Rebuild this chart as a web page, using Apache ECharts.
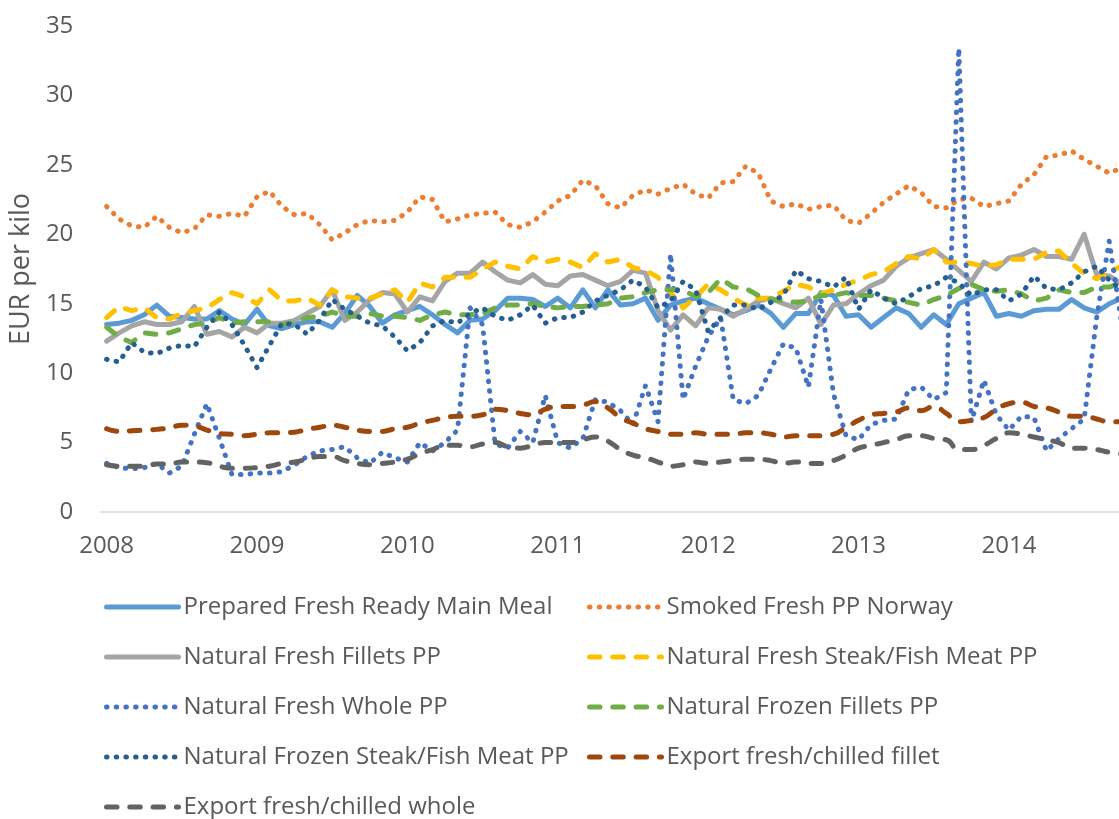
<!DOCTYPE html>
<html><head><meta charset="utf-8">
<script src="https://cdn.jsdelivr.net/npm/echarts@6/dist/echarts.min.js"></script>
<style>html,body{margin:0;padding:0;background:#fff;overflow:hidden;width:1119px;height:819px}#c{width:1128px;height:819px}</style>
</head><body><div id="c"></div>
<script>
// Years shown (monthly data Jan 2008 – Oct 2014)
const years = ['2008','2009','2010','2011','2012','2013','2014'];
const monthsInLastYear = 10;
const yTicks = [0, 5, 10, 15, 20, 25, 30, 35];

const prepared = [13.5,13.6,13.8,14.2,14.9,14.1,14.0,13.9,13.9,14.5,13.9,13.5,
 14.6,13.4,13.2,13.5,13.7,13.7,13.3,14.3,15.6,14.8,13.6,14.2,
 14.5,14.8,14.2,13.5,12.9,13.8,13.9,14.5,15.4,15.4,15.3,14.8,
 15.4,14.7,16.0,14.7,16.0,14.9,15.0,15.4,13.8,14.9,15.2,15.4,
 15.0,14.6,14.2,14.5,14.9,14.3,13.3,14.3,14.3,15.8,15.6,14.1,
 14.2,13.3,14.0,14.7,14.3,13.3,14.2,13.5,15.0,15.4,15.8,14.1,
 14.3,14.1,14.5,14.6,14.6,15.3,14.7,14.4,15.0,15.4];
const smoked = [22.0,21.1,20.6,20.5,21.3,20.5,20.1,20.4,21.4,21.3,21.5,21.3,
 22.7,23.1,22.0,21.4,21.5,20.7,19.6,20.1,20.7,21.0,20.9,21.0,
 21.6,22.7,22.5,20.9,21.1,21.4,21.5,21.6,20.7,20.5,20.9,21.6,
 22.4,22.8,23.9,23.5,22.2,21.9,22.8,23.2,22.9,23.3,23.6,22.9,
 22.6,23.7,23.8,24.9,24.4,22.4,22.0,22.2,21.8,22.0,22.1,21.0,
 20.8,21.5,22.3,22.9,23.5,23.0,22.0,21.9,22.5,22.6,22.0,22.2,
 22.4,23.6,24.3,25.6,25.7,26.0,25.4,24.9,24.4,24.8];
const fillets = [12.3,12.9,13.4,13.7,13.5,13.5,13.7,14.8,12.8,13.0,12.6,13.3,
 12.9,13.6,13.6,13.8,14.3,14.8,16.0,13.8,14.4,15.3,15.8,15.7,
 14.4,15.5,15.2,16.6,17.2,17.2,18.0,17.3,16.7,16.5,17.1,16.4,
 16.3,17.0,17.1,16.7,16.3,16.6,17.4,17.2,14.5,13.1,14.2,13.4,
 14.7,14.6,14.1,14.6,15.2,15.4,15.0,14.7,15.4,13.5,14.9,15.0,
 15.7,16.3,16.7,17.7,18.3,18.6,18.9,18.2,17.4,16.6,18.0,17.5,
 18.3,18.5,18.9,18.4,18.4,18.2,20.0,17.1,17.0,16.4];
const steak = [14.0,14.8,14.5,14.7,14.0,13.9,14.3,14.5,14.7,15.3,15.8,15.5,
 15.0,16.0,15.2,15.2,15.4,14.9,16.0,15.5,15.4,15.4,15.7,16.0,
 15.1,16.5,16.2,16.9,16.9,16.9,17.5,18.0,17.7,17.5,18.4,18.0,
 18.2,18.0,17.6,18.6,18.0,18.2,17.6,17.4,16.9,15.8,14.7,15.5,
 16.4,16.0,15.4,14.9,15.4,15.4,15.9,16.4,16.2,15.7,16.0,16.4,
 16.7,17.1,17.3,17.9,18.4,18.2,18.9,18.0,18.0,17.9,17.7,17.8,
 18.2,18.2,18.2,18.7,18.8,17.9,17.2,16.8,17.3,17.7];
const whole = [3.5,3.2,3.1,3.2,3.5,2.8,3.3,5.6,7.8,5.3,2.7,2.7,
 2.8,2.8,2.9,3.4,4.0,4.4,4.5,4.7,3.9,3.5,4.3,3.9,
 3.6,5.0,4.4,5.0,5.9,14.7,13.5,4.9,4.6,5.8,5.0,8.4,
 5.0,4.6,5.3,8.1,7.9,7.3,6.3,9.1,6.5,18.6,8.1,10.5,
 12.6,14.0,8.1,7.8,8.4,10.3,12.1,11.8,9.0,15.3,8.5,5.5,
 5.2,6.3,6.6,6.7,8.8,9.0,8.1,8.6,33.4,6.5,9.5,7.0,
 5.9,6.9,6.8,4.4,5.3,6.0,6.7,14.0,19.5,13.5];
const frozenFillets = [13.3,12.6,12.2,12.9,12.8,12.9,13.2,13.5,13.6,14.0,13.6,13.7,
 13.7,13.7,13.5,13.6,14.0,14.1,14.4,14.1,14.1,14.3,14.1,14.1,
 14.0,13.8,14.2,14.4,14.2,14.2,14.3,14.7,14.9,14.9,15.0,14.8,
 14.7,14.8,14.8,14.9,15.0,15.4,15.5,15.8,16.0,16.0,16.0,15.5,
 15.8,16.8,16.2,16.1,15.6,15.3,15.2,15.1,15.2,15.6,15.6,15.8,
 15.6,15.6,15.4,15.2,15.1,14.9,15.3,15.6,16.1,16.4,16.0,15.9,
 16.0,15.7,15.2,15.4,16.0,15.8,15.8,16.2,16.2,16.5];
const frozenSteak = [11.0,10.8,12.2,11.5,11.4,11.8,12.0,11.9,13.3,14.4,13.5,12.0,
 10.4,12.0,13.6,13.5,12.8,13.8,15.3,14.6,14.1,13.6,13.4,12.6,
 11.6,12.2,13.4,13.8,13.6,14.3,14.7,14.1,13.8,14.2,14.9,13.6,
 14.0,14.0,14.4,15.2,15.6,16.0,16.7,16.2,14.7,15.2,16.6,16.0,
 13.0,14.0,14.9,14.9,14.6,15.1,15.6,17.4,16.8,16.6,16.2,16.9,
 14.6,16.0,15.4,15.0,15.5,16.1,16.3,16.9,16.5,15.6,16.0,16.0,
 15.2,15.7,17.0,16.1,16.0,16.5,17.3,17.7,16.7,16.0];
const exportFillet = [6.0,5.8,5.85,5.9,5.95,6.05,6.25,6.2,5.9,5.65,5.6,5.5,
 5.6,5.7,5.7,5.75,5.95,6.1,6.25,6.1,5.9,5.8,5.8,6.0,
 6.1,6.4,6.6,6.8,6.9,6.9,7.0,7.4,7.3,7.1,7.0,7.4,
 7.6,7.6,7.7,7.95,7.5,6.8,6.4,6.0,5.8,5.6,5.6,5.7,
 5.6,5.6,5.6,5.7,5.7,5.6,5.4,5.5,5.5,5.5,5.6,6.1,
 6.6,7.0,7.1,7.2,7.5,7.3,7.6,7.1,6.5,6.6,6.8,7.4,
 7.8,7.9,7.6,7.5,7.2,6.9,6.9,6.7,6.5,6.5];
const exportWhole = [3.4,3.3,3.3,3.3,3.45,3.45,3.6,3.6,3.55,3.3,3.15,3.15,
 3.2,3.3,3.5,3.6,3.8,4.0,4.0,3.7,3.5,3.4,3.5,3.6,
 3.8,4.2,4.5,4.8,4.8,4.7,4.9,5.0,4.7,4.6,4.8,5.0,
 5.0,5.0,5.2,5.4,5.1,4.5,4.1,3.9,3.6,3.3,3.4,3.6,
 3.5,3.6,3.7,3.8,3.8,3.7,3.5,3.6,3.5,3.5,3.7,4.1,
 4.6,4.8,5.0,5.2,5.5,5.5,5.3,5.2,4.5,4.5,4.8,5.3,
 5.7,5.6,5.4,5.2,5.0,4.6,4.6,4.5,4.3,4.2];

const months = [];
years.forEach((y, yi) => {
  const n = yi === years.length - 1 ? monthsInLastYear : 12;
  for (let m = 1; m <= n; m++) months.push(y + '-' + (m < 10 ? '0' + m : m));
});

const FONT = 'Open Sans';
const TXT = '#595959';
const DOT = [0.5, 9.2];
const DASH = [10.5, 12.8];

function mk(name, data, color, type, smooth) {
  return {
    name, type: 'line', data, symbol: 'none', smooth: smooth || false,
    lineStyle: { color, width: 5, type, cap: 'round', join: 'round' },
    itemStyle: { color },
    emphasis: { disabled: true }
  };
}

const series = [
  mk('Prepared Fresh Ready Main Meal', prepared, '#5B9BD5', 'solid'),
  mk('Smoked Fresh PP Norway', smoked, '#ED7D31', DOT),
  mk('Natural Fresh Fillets PP', fillets, '#A5A5A5', 'solid'),
  mk('Natural Fresh Steak/Fish Meat PP', steak, '#FFC000', DASH),
  mk('Natural Fresh Whole PP', whole, '#4472C4', DOT),
  mk('Natural Frozen Fillets PP', frozenFillets, '#70AD47', DASH),
  mk('Natural Frozen Steak/Fish Meat PP', frozenSteak, '#255E91', DOT),
  mk('Export fresh/chilled fillet', exportFillet, '#9E480E', DASH, true),
  mk('Export fresh/chilled whole', exportWhole, '#636363', DASH, true)
];

// one legend component per entry: two columns, 50px rows
const legends = series.map((s, i) => ({
  orient: 'horizontal', padding: 0,
  left: i % 2 === 0 ? 104 : 587,
  top: 595 + Math.floor(i / 2) * 50,
  itemWidth: 72, itemHeight: 20, itemGap: 0,
  data: [s.name],
  textStyle: { fontFamily: FONT, fontSize: 24, color: TXT, lineHeight: 20 },
  itemStyle: { opacity: 0 },
  lineStyle: { width: 5, cap: 'round' },
  selectedMode: false
}));

const chart = echarts.init(document.getElementById('c'), null, { renderer: 'canvas', width: 1128, height: 819 });
chart.setOption({
  animation: false,
  backgroundColor: '#ffffff',
  grid: { left: 100, top: 26, right: 0, bottom: 307, containLabel: false },
  xAxis: {
    type: 'category', data: months, boundaryGap: true,
    axisLine: { lineStyle: { color: '#D9D9D9', width: 1.5 } },
    axisTick: { show: false },
    splitLine: { show: false },
    axisLabel: {
      interval: (i) => i % 12 === 0,
      formatter: (v) => v.slice(0, 4),
      fontFamily: FONT, fontSize: 24, color: TXT, margin: 22
    }
  },
  yAxis: {
    type: 'value', min: yTicks[0], max: yTicks[yTicks.length - 1], interval: 5,
    name: 'EUR per kilo', nameLocation: 'middle', nameGap: 57, nameRotate: 90,
    nameTextStyle: { fontFamily: FONT, fontSize: 27, color: TXT },
    axisLine: { show: false }, axisTick: { show: false },
    splitLine: { show: false },
    axisLabel: { fontFamily: FONT, fontSize: 24, color: TXT, margin: 27 }
  },
  legend: legends,
  series
});
</script></body></html>
